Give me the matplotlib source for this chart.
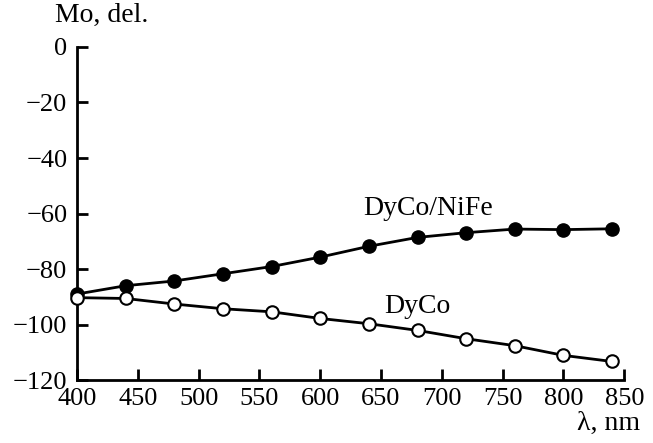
import numpy as np
import matplotlib.pyplot as plt

plt.rcParams['font.family'] = ['Liberation Serif', 'DejaVu Serif']
plt.rcParams['font.size'] = 19

wavelength = [400, 440, 480, 520, 560, 600, 640, 680, 720, 760, 800, 840]
dyco_nife = [-89.0, -86.0, -84.3, -81.7, -79.1, -75.7, -71.8, -68.6, -66.9, -65.6, -65.8, -65.5]
dyco = [-90.3, -90.6, -92.6, -94.3, -95.4, -97.8, -99.7, -102.1, -105.1, -107.6, -111.1, -113.3]

xticks = [400, 450, 500, 550, 600, 650, 700, 750, 800, 850]
yticks = [0, -20, -40, -60, -80, -100, -120]

fig = plt.figure(figsize=(6.53, 4.43), dpi=100)
ax = fig.add_axes([0.118, 0.142, 0.838, 0.752])

ax.plot(wavelength, dyco_nife, color='black', lw=2, marker='o', ms=9.5,
        mfc='black', mec='black', clip_on=False, zorder=3)
ax.plot(wavelength, dyco, color='black', lw=2, marker='o', ms=9,
        mfc='white', mec='black', mew=1.5, clip_on=False, zorder=3)

ax.set_xlim(400, 850)
ax.set_ylim(-120, 0)
ax.set_xticks(xticks)
ax.set_yticks(yticks)

for s in ['top', 'right']:
    ax.spines[s].set_visible(False)
for s in ['left', 'bottom']:
    ax.spines[s].set_linewidth(2)

ax.tick_params(direction='in', length=8, width=2)
ax.tick_params(axis='y', pad=7)
ax.tick_params(axis='x', pad=6)

# curve labels
ax.text(688.5, -58.3, 'DyCo/NiFe', ha='center', va='center', fontsize=20)
ax.text(680, -93.5, 'DyCo', ha='center', va='center', fontsize=20)

fig.text(0.156, 0.965, 'Mo, del.', ha='center', va='center', fontsize=20)
fig.text(0.932, 0.045, 'λ, nm', ha='center', va='center', fontsize=20)

fig.savefig('out.png', dpi=100)
